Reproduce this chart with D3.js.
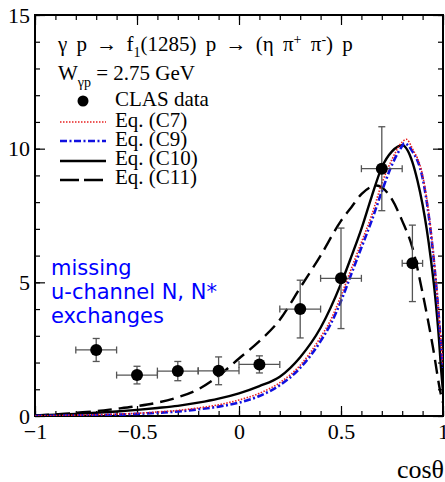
<!DOCTYPE html>
<html>
<head>
<meta charset="utf-8">
<script src="https://cdn.jsdelivr.net/npm/d3@7"></script>
<style>
  body { margin: 0; background: #fff; }
  svg { display: block; }
  text { font-family: "Liberation Serif", "Times New Roman", serif; }
</style>
</head>
<body>
<svg id="chart" width="445" height="482"></svg>
<script>
// CLAS data points: cos(theta), value, x half-width, y error
const dataX    = [-0.7, -0.5, -0.3, -0.1, 0.1, 0.3, 0.5, 0.7, 0.85];
const dataY    = [2.47, 1.53, 1.68, 1.69, 1.93, 4.0, 5.15, 9.25, 5.71];
const dataXErr = [0.1, 0.1, 0.1, 0.1, 0.1, 0.1, 0.1, 0.1, 0.05];
const dataYErr = [0.43, 0.33, 0.36, 0.52, 0.32, 1.08, 1.88, 1.57, 1.43];

// model curves
const c7X  = [-1, -0.8, -0.6, -0.5, -0.4, -0.3, -0.2, -0.1, 0, 0.1, 0.2, 0.3, 0.4, 0.45, 0.5, 0.55, 0.6, 0.65, 0.7, 0.75, 0.8, 0.82, 0.85, 0.9, 0.93, 0.95, 0.97, 0.99, 1.0];
const c7Y  = [0.0, 0.03, 0.07, 0.1, 0.15, 0.21, 0.3, 0.42, 0.6, 0.85, 1.25, 1.9, 2.95, 3.6, 4.5, 5.5, 6.5, 7.5, 8.7, 9.6, 10.25, 10.35, 10.0, 9.0, 7.6, 6.3, 4.7, 2.8, 1.9];

const c9X  = [-1, -0.8, -0.6, -0.5, -0.4, -0.3, -0.2, -0.1, 0, 0.1, 0.2, 0.3, 0.4, 0.45, 0.5, 0.55, 0.6, 0.65, 0.7, 0.75, 0.8, 0.81, 0.85, 0.9, 0.93, 0.95, 0.97, 0.99, 1.0];
const c9Y  = [0.0, 0.02, 0.05, 0.08, 0.12, 0.17, 0.25, 0.35, 0.5, 0.75, 1.15, 1.8, 2.8, 3.45, 4.3, 5.3, 6.3, 7.3, 8.4, 9.4, 10.1, 10.2, 9.9, 8.9, 7.5, 6.2, 4.6, 2.7, 1.8];

const c10X = [-1, -0.9, -0.8, -0.7, -0.6, -0.5, -0.4, -0.3, -0.2, -0.1, 0, 0.1, 0.2, 0.3, 0.4, 0.5, 0.55, 0.6, 0.65, 0.7, 0.75, 0.8, 0.85, 0.875, 0.9, 0.92, 0.94, 0.96, 0.98, 0.99, 1.0];
const c10Y = [0.02, 0.05, 0.08, 0.12, 0.17, 0.23, 0.3, 0.38, 0.5, 0.65, 0.85, 1.12, 1.47, 2.2, 3.3, 4.95, 5.95, 7.0, 8.2, 9.3, 9.9, 10.13, 9.5, 8.8, 7.9, 7.0, 5.9, 4.6, 2.9, 1.8, 0.9];

const c11X = [-1, -0.9, -0.8, -0.7, -0.6, -0.5, -0.4, -0.3, -0.2, -0.1, 0, 0.1, 0.2, 0.3, 0.4, 0.5, 0.55, 0.6, 0.675, 0.7, 0.75, 0.8, 0.85, 0.9, 0.95, 0.99, 1.0];
const c11Y = [0.02, 0.06, 0.12, 0.18, 0.27, 0.37, 0.5, 0.7, 1.0, 1.5, 2.15, 2.8, 3.6, 4.8, 6.0, 7.3, 7.8, 8.3, 8.62, 8.55, 8.1, 7.3, 6.3, 4.6, 2.6, 0.8, 0.5];

const xTickValues = [-1, -0.5, 0, 0.5, 1];
const xTickLabels = ["\u22121", "\u22120.5", "0", "0.5", "1"];
const yTickValues = [0, 5, 10, 15];
const yTickLabels = ["0", "5", "10", "15"];

const legendLabels = ["CLAS data", "Eq. (C7)", "Eq. (C9)", "Eq. (C10)", "Eq. (C11)"];
const noteLines = ["missing", "u-channel N, N*", "exchanges"];

const svg = d3.select("#chart");

// plot frame
const plotL = 35, plotR = 443, plotT = 15, plotB = 416;
const x = d3.scaleLinear().domain([-1, 1]).range([plotL, plotR]);
const y = d3.scaleLinear().domain([0, 15]).range([plotB, plotT]);

svg.append("defs").append("clipPath").attr("id", "plotclip")
    .append("rect")
    .attr("x", plotL).attr("y", plotT)
    .attr("width", plotR - plotL).attr("height", plotB - plotT);

// Ticks (all pointing inward)
function drawAxis(axis, tx, ty) {
    const g = svg.append("g").attr("transform", `translate(${tx},${ty})`).call(axis);
    g.select(".domain").remove();
    g.selectAll(".tick line").attr("stroke", "#000").attr("stroke-width", 1.2);
    return g;
}
const xMinor = d3.range(-1, 1.0001, 0.1).map(v => +v.toFixed(2));
const yMinor = d3.range(0, 15.0001, 1);

drawAxis(d3.axisBottom(x).tickValues(xMinor).tickSize(-5).tickFormat(""), 0, plotB);
drawAxis(d3.axisTop(x).tickValues(xMinor).tickSize(-5).tickFormat(""), 0, plotT);
drawAxis(d3.axisLeft(y).tickValues(yMinor).tickSize(-5).tickFormat(""), plotL, 0);
drawAxis(d3.axisRight(y).tickValues(yMinor).tickSize(-5).tickFormat(""), plotR, 0);

drawAxis(d3.axisTop(x).tickValues(xTickValues).tickSize(-10).tickFormat(""), 0, plotT);
drawAxis(d3.axisRight(y).tickValues(yTickValues).tickSize(-10).tickFormat(""), plotR, 0);

const xAx = drawAxis(d3.axisBottom(x).tickValues(xTickValues).tickSize(-10).tickPadding(7)
    .tickFormat((d, i) => xTickLabels[i]), 0, plotB);
xAx.selectAll("text")
    .style("font-family", "Liberation Serif")
    .attr("font-size", 22)
    .attr("fill", "#000");

const yAx = drawAxis(d3.axisLeft(y).tickValues(yTickValues).tickSize(-10).tickPadding(5)
    .tickFormat((d, i) => yTickLabels[i]), plotL, 0);
yAx.selectAll("text")
    .style("font-family", "Liberation Serif")
    .attr("font-size", 22)
    .attr("fill", "#000");

// frame
svg.append("rect")
    .attr("x", plotL).attr("y", plotT)
    .attr("width", plotR - plotL).attr("height", plotB - plotT)
    .attr("fill", "none")
    .attr("stroke", "#000")
    .attr("stroke-width", 2);

// Curves
const line = d3.line()
    .x(d => x(d[0]))
    .y(d => y(d[1]))
    .curve(d3.curveMonotoneX);

const curves = [
    { xs: c11X, ys: c11Y, color: "#000", width: 2.4, dash: "14,7" },
    { xs: c10X, ys: c10Y, color: "#000", width: 2.4, dash: null },
    { xs: c9X,  ys: c9Y,  color: "#1010e0", width: 2.6, dash: "7,2.5,2,2.5" },
    { xs: c7X,  ys: c7Y,  color: "#e82020", width: 1.6, dash: "1.5,1.5" }
];

const curveG = svg.append("g").attr("clip-path", "url(#plotclip)");
curves.forEach(c => {
    curveG.append("path")
        .datum(c.xs.map((v, i) => [v, c.ys[i]]))
        .attr("d", line)
        .attr("fill", "none")
        .attr("stroke", c.color)
        .attr("stroke-width", c.width)
        .attr("stroke-dasharray", c.dash);
});

// Data points with error bars
const pts = dataX.map((v, i) => ({ x: v, y: dataY[i], ex: dataXErr[i], ey: dataYErr[i] }));
const errColor = "#555";
const pg = svg.append("g");
pts.forEach(p => {
    const cx = x(p.x), cy = y(p.y);
    const x0 = x(p.x - p.ex), x1 = x(p.x + p.ex);
    const y0 = y(p.y - p.ey), y1 = y(p.y + p.ey);
    const segs = [
        [x0, cy, x1, cy], [cx, y0, cx, y1],
        [x0, cy - 3.5, x0, cy + 3.5], [x1, cy - 3.5, x1, cy + 3.5],
        [cx - 3.5, y0, cx + 3.5, y0], [cx - 3.5, y1, cx + 3.5, y1]
    ];
    segs.forEach(s => {
        pg.append("line")
            .attr("x1", s[0]).attr("y1", s[1]).attr("x2", s[2]).attr("y2", s[3])
            .attr("stroke", errColor)
            .attr("stroke-width", 1.3);
    });
    pg.append("circle").attr("cx", cx).attr("cy", cy).attr("r", 6).attr("fill", "#000");
});

// Title text
const title = svg.append("text")
    .attr("x", 58).attr("y", 51)
    .attr("font-size", 21)
    .style("word-spacing", "4px");
title.append("tspan").text("\u03b3 p \u2192 f");
title.append("tspan").attr("dy", 6).attr("font-size", 14).text("1");
title.append("tspan").attr("dy", -6).text("(1285) p \u2192 (\u03b7 \u03c0");
title.append("tspan").attr("dy", -7).attr("font-size", 14).text("+");
title.append("tspan").attr("dy", 7).text(" \u03c0");
title.append("tspan").attr("dy", -7).attr("font-size", 14).text("-");
title.append("tspan").attr("dy", 7).text(") p");

const wline = svg.append("text")
    .attr("x", 58).attr("y", 80)
    .attr("font-size", 21);
wline.append("tspan").text("W");
wline.append("tspan").attr("dy", 7).attr("font-size", 14).text("\u03b3p");
wline.append("tspan").attr("dy", -7).text(" = 2.75 GeV");

// Legend
const legendY = [106, 127, 146, 165, 184];
const lineY = [101, 122, 141, 161, 180];
svg.append("circle").attr("cx", 83).attr("cy", lineY[0]).attr("r", 5.5).attr("fill", "#000");
[curves[3], curves[2], curves[1], curves[0]].forEach((c, i) => {
    svg.append("line")
        .attr("x1", 60).attr("x2", 106)
        .attr("y1", lineY[i + 1]).attr("y2", lineY[i + 1])
        .attr("stroke", c.color)
        .attr("stroke-width", c.width)
        .attr("stroke-dasharray", c.dash === "14,7" ? "19,5" : c.dash);
});
legendLabels.forEach((t, i) => {
    svg.append("text")
        .attr("x", 115).attr("y", legendY[i])
        .attr("font-size", 21)
        .text(t);
});

// Note in blue
noteLines.forEach((t, i) => {
    svg.append("text")
        .attr("x", 51).attr("y", 275 + i * 24)
        .style("font-family", "'DejaVu Sans', sans-serif")
        .attr("font-size", 21)
        .attr("fill", "#0000ff")
        .text(t);
});

// x axis title
svg.append("text")
    .attr("x", 444).attr("y", 478)
    .attr("text-anchor", "end")
    .attr("font-size", 26)
    .text("cos\u03b8");
</script>
</body>
</html>
